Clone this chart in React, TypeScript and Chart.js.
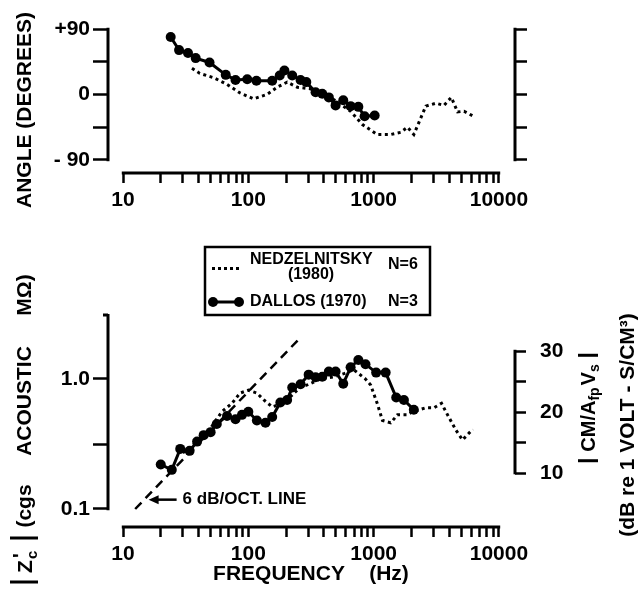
import React, { useEffect, useRef } from 'react';
import { Chart, registerables } from 'chart.js';

Chart.register(...registerables);

const FONT_FAMILY = '"Liberation Sans", Arial, Helvetica, sans-serif';
const INK = '#000';

// ---------- shared frequency axis ----------
const freqTicks = [
  10, 20, 30, 40, 50, 60, 70, 80, 90,
  100, 200, 300, 400, 500, 600, 700, 800, 900,
  1000, 2000, 3000, 4000, 5000, 6000, 7000, 8000, 9000, 10000,
];
const freqLabelValues = [10, 100, 1000, 10000];
const FREQ_MIN = 7.586;
const FREQ_MAX = 13430;

// ---------- top panel: phase angle ----------
const angleTicks = [-90, -45, 0, 45, 90];
const angleTickLabels = ['- 90', '', '0', '', '+90'];
const ANGLE_MIN = -107.9;
const ANGLE_MAX = 90;

const topDallosFreq = [24, 28, 33, 38, 49, 66, 79, 98, 116, 155, 178, 194, 224, 261, 290, 344, 389, 439, 497, 572, 655, 755, 847, 1019];
const topDallosAngle = [79, 61, 57, 50, 44, 27, 20, 21, 19, 19, 26, 33, 26, 20, 17, 3, 1, -4, -15, -8, -16, -17, -30, -29];

const topNedFreq = [35.5, 41, 53, 67.5, 86, 110, 141, 170, 204, 246, 310, 400, 480, 655, 810, 1067, 1368, 1644, 1860, 2092, 2607, 3133, 3637, 4166, 4675, 5261, 6270];
const topNedAngle = [36, 29, 23, 14, 2, -6, 0, 10, 17, 10, 8, -1, -7, -23, -41, -55, -55, -52, -45, -55, -16, -12, -15, -4, -24, -23, -30];

// ---------- bottom panel: impedance magnitude ----------
const zTicks = [0.1, 0.3162, 1];
const zTickLabels = ['0.1', '', '1.0'];
const Z_MIN = 0.0727;
const Z_MAX = 3.162;

const dbTicks = [10, 15, 20, 25, 30];
const dbTickLabels = ['10', '', '20', '', '30'];
const DB_MIN = 1.15;
const DB_MAX = 36.07;

const botDallosFreq = [20, 24.5, 28.6, 34, 39, 44, 50, 56, 67.6, 79, 89, 100, 117, 137, 155, 180, 204, 224, 261, 303, 344, 389, 439, 497, 572, 655, 755, 861, 1047, 1247, 1514, 1744, 2092];
const botDallosZ = [0.22, 0.2, 0.29, 0.28, 0.33, 0.37, 0.39, 0.45, 0.52, 0.49, 0.53, 0.56, 0.48, 0.46, 0.51, 0.66, 0.69, 0.86, 0.91, 1.08, 1.03, 1.04, 1.14, 1.14, 0.92, 1.23, 1.4, 1.3, 1.12, 1.12, 0.72, 0.69, 0.58];

const botNedFreq = [30, 41, 50, 61.5, 74, 86, 100, 117, 133, 155, 191, 261, 295, 377, 480, 579, 692, 861, 946, 1067, 1176, 1368, 1549, 1860, 2040, 2607, 3020, 3480, 3890, 4529, 5120, 6170];
const botNedZ = [0.27, 0.34, 0.42, 0.56, 0.65, 0.78, 0.82, 0.78, 0.69, 0.61, 0.65, 0.87, 0.9, 1.0, 1.04, 1.1, 1.18, 1.0, 0.9, 0.65, 0.48, 0.46, 0.53, 0.53, 0.56, 0.6, 0.6, 0.65, 0.53, 0.405, 0.34, 0.41];

const slopeFreq = [12.5, 250];
const slopeZ = [0.1, 2.0];

// annotation anchor (arrow tip) in data units
const arrowTipFreq = 16;
const arrowTipZ = 0.118;

// ---------- helpers ----------
const pts = (xs: number[], ys: number[]) => xs.map((x, i) => ({ x, y: ys[i] }));
const bold = (size: number) => `bold ${size}px ${FONT_FAMILY}`;
const tickFont = { family: FONT_FAMILY, size: 21, weight: 'bold' as const };

function seg(ctx: CanvasRenderingContext2D, x1: number, y1: number, x2: number, y2: number) {
  ctx.beginPath();
  ctx.moveTo(x1, y1);
  ctx.lineTo(x2, y2);
  ctx.stroke();
}

function vtext(ctx: CanvasRenderingContext2D, text: string, cx: number, cy: number, font: string) {
  ctx.save();
  ctx.translate(cx, cy);
  ctx.rotate(-Math.PI / 2);
  ctx.font = font;
  ctx.textAlign = 'center';
  ctx.textBaseline = 'middle';
  ctx.fillText(text, 0, 0);
  ctx.restore();
}

function freqScale(height: number) {
  return {
    type: 'logarithmic',
    position: 'bottom',
    bounds: 'data',
    min: FREQ_MIN,
    max: FREQ_MAX,
    afterBuildTicks: (s: any) => {
      s.ticks = freqTicks.map((v) => ({ value: v }));
    },
    afterFit: (s: any) => {
      s.height = height;
    },
    ticks: {
      autoSkip: false,
      maxRotation: 0,
      minRotation: 0,
      padding: 5,
      color: INK,
      font: tickFont,
      callback: (v: number) => (freqLabelValues.includes(v) ? String(v) : ''),
    },
    grid: { drawOnChartArea: false, drawTicks: true, tickLength: 10, tickWidth: 2.5, tickColor: INK },
    border: { display: false },
  };
}

function valueScale(
  type: string,
  position: string,
  min: number,
  max: number,
  tickVals: number[],
  tickLabels: string[] | null,
  width: number,
  tickLength: number,
  padding: number,
) {
  return {
    type,
    position,
    bounds: 'data',
    min,
    max,
    afterBuildTicks: (s: any) => {
      s.ticks = tickVals.map((v) => ({ value: v }));
    },
    afterFit: (s: any) => {
      s.width = width;
    },
    ticks: {
      autoSkip: false,
      padding,
      color: INK,
      font: tickFont,
      callback: (v: number) => {
        if (!tickLabels) return '';
        const i = tickVals.indexOf(v);
        return i >= 0 ? tickLabels[i] : '';
      },
    },
    grid: { drawOnChartArea: false, drawTicks: true, tickLength, tickWidth: 2.5, tickColor: INK },
    border: { display: false },
  };
}

// ---------- plugins ----------
const topDecor = {
  id: 'topDecor',
  afterDraw(chart: any) {
    const { ctx } = chart;
    const x = chart.scales.x;
    const y = chart.scales.y;
    const y2 = chart.scales.y2;
    ctx.save();
    ctx.strokeStyle = INK;
    ctx.fillStyle = INK;
    ctx.lineWidth = 3;
    const yT = y.getPixelForValue(angleTicks[angleTicks.length - 1]) - 1.25;
    const yB = y.getPixelForValue(angleTicks[0]) + 1.25;
    seg(ctx, y.right, yT, y.right, yB);
    seg(ctx, y2.left, y2.getPixelForValue(angleTicks[angleTicks.length - 1]) - 1.25, y2.left, y2.getPixelForValue(angleTicks[0]) + 1.25);
    seg(ctx, x.getPixelForValue(freqTicks[0]) - 1.25, x.top, x.getPixelForValue(freqTicks[freqTicks.length - 1]) + 1.25, x.top);
    vtext(ctx, 'ANGLE (DEGREES)', 25, 110, bold(21));
    ctx.restore();
  },
};

const bottomDecor = {
  id: 'bottomDecor',
  afterDraw(chart: any) {
    const { ctx } = chart;
    const x = chart.scales.x;
    const y = chart.scales.y;
    const y2 = chart.scales.y2;
    ctx.save();
    ctx.strokeStyle = INK;
    ctx.fillStyle = INK;
    ctx.lineWidth = 3;
    // axis lines
    seg(ctx, y.right, chart.chartArea.top, y.right, y.getPixelForValue(zTicks[0]) + 1.25);
    seg(ctx, y.right - 5, chart.chartArea.top + 1, y.right, chart.chartArea.top + 1);
    seg(ctx, y2.left, y2.getPixelForValue(dbTicks[dbTicks.length - 1]) - 1.25, y2.left, y2.getPixelForValue(dbTicks[0]) + 1.25);
    seg(ctx, x.getPixelForValue(freqTicks[0]) - 1.25, x.top, x.getPixelForValue(freqTicks[freqTicks.length - 1]) + 1.25, x.top);

    // x title
    ctx.font = bold(21);
    ctx.textBaseline = 'middle';
    ctx.textAlign = 'center';
    ctx.fillText('FREQUENCY', 279, 354);
    ctx.fillText('(Hz)', 389, 354);

    // left title: |Z'c| (cgs ACOUSTIC MΩ)
    vtext(ctx, 'MΩ)', 25, 75, bold(21));
    vtext(ctx, 'ACOUSTIC', 25, 181, bold(21));
    vtext(ctx, '(cgs', 25, 286, bold(21));
    ctx.save();
    ctx.translate(24, 340);
    ctx.rotate(-Math.PI / 2);
    ctx.lineWidth = 3;
    seg(ctx, -22, -14, -22, 14);
    seg(ctx, 22, -14, 22, 14);
    ctx.textAlign = 'left';
    ctx.textBaseline = 'alphabetic';
    ctx.font = bold(21);
    ctx.fillText('Z', -13, 7.5);
    ctx.font = bold(15);
    ctx.fillText('c', 1, 13);
    ctx.font = bold(20);
    ctx.fillText("'", 2, 3);
    ctx.restore();

    // right title 1: |CM/Afp Vs|
    ctx.save();
    ctx.translate(588, 188);
    ctx.rotate(-Math.PI / 2);
    ctx.textAlign = 'left';
    ctx.textBaseline = 'alphabetic';
    const pieces: { t: string; size: number; base: number; gapAfter: number }[] = [
      { t: 'CM/A', size: 20, base: 7, gapAfter: 0 },
      { t: 'fp', size: 14, base: 11, gapAfter: 2 },
      { t: 'V', size: 20, base: 7, gapAfter: 0 },
      { t: 's', size: 14, base: 11, gapAfter: 0 },
    ];
    let total = 0;
    for (const p of pieces) {
      ctx.font = bold(p.size);
      total += ctx.measureText(p.t).width + p.gapAfter;
    }
    const barGap = 9;
    let cx = -total / 2;
    ctx.lineWidth = 3;
    seg(ctx, cx - barGap, -10, cx - barGap, 10);
    seg(ctx, cx + total + barGap, -10, cx + total + barGap, 10);
    for (const p of pieces) {
      ctx.font = bold(p.size);
      ctx.fillText(p.t, cx, p.base);
      cx += ctx.measureText(p.t).width + p.gapAfter;
    }
    ctx.restore();

    // right title 2
    vtext(ctx, '(dB re 1 VOLT - S/CM³)', 628, 205, bold(21));

    // 6 dB/oct annotation
    const tipX = x.getPixelForValue(arrowTipFreq);
    const tipY = y.getPixelForValue(arrowTipZ);
    ctx.lineWidth = 2.5;
    seg(ctx, tipX + 6, tipY, tipX + 28, tipY);
    ctx.beginPath();
    ctx.moveTo(tipX, tipY);
    ctx.lineTo(tipX + 10, tipY - 4.5);
    ctx.lineTo(tipX + 10, tipY + 4.5);
    ctx.closePath();
    ctx.fill();
    ctx.font = bold(17);
    ctx.textAlign = 'left';
    ctx.textBaseline = 'middle';
    ctx.fillText('6 dB/OCT. LINE', tipX + 34, tipY);

    // legend box
    ctx.lineWidth = 2.5;
    ctx.strokeRect(205, 27, 225, 68);
    for (let i = 0; i < 5; i++) ctx.fillRect(212 + i * 6, 47, 3, 3);
    ctx.font = bold(16);
    ctx.textAlign = 'left';
    ctx.fillText('NEDZELNITSKY', 250, 40);
    ctx.textAlign = 'center';
    ctx.fillText('(1980)', 311, 55);
    ctx.textAlign = 'left';
    ctx.fillText('N=6', 388, 45);
    ctx.lineWidth = 3;
    seg(ctx, 213, 82, 239, 82);
    ctx.beginPath();
    ctx.arc(213, 82, 5, 0, Math.PI * 2);
    ctx.fill();
    ctx.beginPath();
    ctx.arc(239, 82, 5, 0, Math.PI * 2);
    ctx.fill();
    ctx.fillText('DALLOS (1970)', 250, 82);
    ctx.fillText('N=3', 388, 82);
    ctx.restore();
  },
};

const dallosStyle = {
  showLine: true,
  borderColor: INK,
  borderWidth: 3,
  pointRadius: 5,
  pointHoverRadius: 5,
  pointBackgroundColor: INK,
  pointBorderWidth: 0,
  fill: false,
  tension: 0,
};
const nedStyle = {
  showLine: true,
  borderColor: INK,
  borderWidth: 3,
  borderDash: [3, 3.5],
  borderCapStyle: 'butt',
  pointRadius: 0,
  pointHoverRadius: 0,
  fill: false,
  tension: 0,
};

function topConfig(): any {
  return {
    type: 'scatter',
    data: {
      datasets: [
        { label: 'DALLOS (1970) N=3', data: pts(topDallosFreq, topDallosAngle), ...dallosStyle },
        { label: 'NEDZELNITSKY (1980) N=6', data: pts(topNedFreq, topNedAngle), ...nedStyle },
      ],
    },
    options: {
      responsive: false,
      animation: false,
      devicePixelRatio: 1,
      layout: { padding: { top: 29, left: 0, right: 0, bottom: 0 } },
      plugins: { legend: { display: false }, tooltip: { enabled: false } },
      events: [],
      scales: {
        x: freqScale(47),
        y: valueScale('linear', 'left', ANGLE_MIN, ANGLE_MAX, angleTicks, angleTickLabels, 108, 15, 3),
        y2: valueScale('linear', 'right', ANGLE_MIN, ANGLE_MAX, angleTicks, null, 123, 12, 4),
      },
    },
    plugins: [topDecor],
  };
}

function botConfig(): any {
  return {
    type: 'scatter',
    data: {
      datasets: [
        { label: 'DALLOS (1970) N=3', data: pts(botDallosFreq, botDallosZ), ...dallosStyle },
        { label: 'NEDZELNITSKY (1980) N=6', data: pts(botNedFreq, botNedZ), ...nedStyle },
        {
          label: '6 dB/OCT. LINE',
          data: pts(slopeFreq, slopeZ),
          showLine: true,
          borderColor: INK,
          borderWidth: 2.5,
          borderDash: [9, 6],
          pointRadius: 0,
          pointHoverRadius: 0,
          fill: false,
        },
      ],
    },
    options: {
      responsive: false,
      animation: false,
      devicePixelRatio: 1,
      layout: { padding: { top: 94, left: 0, right: 0, bottom: 0 } },
      plugins: { legend: { display: false }, tooltip: { enabled: false } },
      events: [],
      scales: {
        x: freqScale(64),
        y: valueScale('logarithmic', 'left', Z_MIN, Z_MAX, zTicks, zTickLabels, 108, 15, 3),
        y2: valueScale('linear', 'right', DB_MIN, DB_MAX, dbTicks, dbTickLabels, 123, 11, 14),
      },
    },
    plugins: [bottomDecor],
  };
}

export default function App() {
  const topRef = useRef<HTMLCanvasElement>(null);
  const botRef = useRef<HTMLCanvasElement>(null);
  useEffect(() => {
    document.body.style.margin = '0';
    const c1 = new Chart(topRef.current as HTMLCanvasElement, topConfig());
    const c2 = new Chart(botRef.current as HTMLCanvasElement, botConfig());
    return () => {
      c1.destroy();
      c2.destroy();
    };
  }, []);
  return (
    <div style={{ position: 'absolute', left: 0, top: 0, width: 638, height: 591, background: '#fff' }}>
      <canvas ref={topRef} width={638} height={220} style={{ position: 'absolute', left: 0, top: 0 }} />
      <canvas ref={botRef} width={638} height={371} style={{ position: 'absolute', left: 0, top: 220 }} />
    </div>
  );
}
